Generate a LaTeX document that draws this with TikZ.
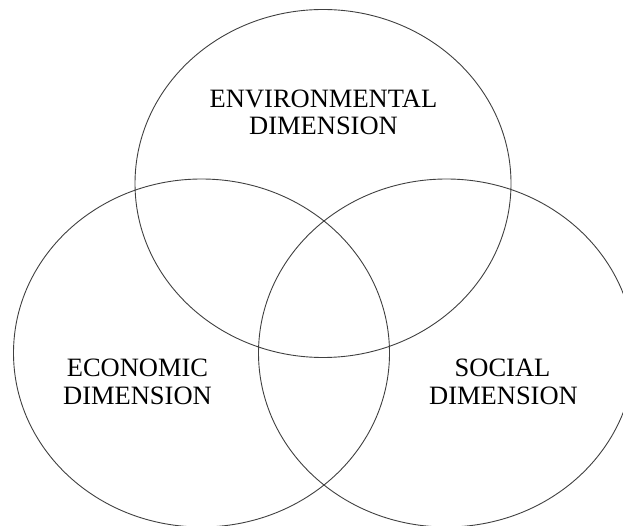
\documentclass[tikz,border=0pt]{standalone}
\usepackage{fontspec}
\setmainfont{Liberation Serif}
\begin{document}
\begin{tikzpicture}[x=1pt,y=1pt,
  ring/.style={draw=black!75,line width=0.9pt},
  lbl/.style={anchor=base,inner sep=0pt,font=\fontsize{26.5}{28}\selectfont}]
\useasboundingbox (0,0) rectangle (623,525);
\clip (0,0) rectangle (623,525);
\draw[ring] (323,341.5) ellipse [x radius=188,y radius=174];
\draw[ring] (201.5,172) ellipse [x radius=188,y radius=174];
\draw[ring] (446.5,172) ellipse [x radius=188,y radius=174];
\node[lbl] (env1) at (323.5,417.5) {ENVIRONMENTAL};
\node[lbl] (env2) at (323.5,390.5) {DIMENSION};
\node[lbl] (eco1) at (137.5,148.5) {ECONOMIC};
\node[lbl] (eco2) at (137.5,120.5) {DIMENSION};
\node[lbl] (soc1) at (502.5,148.5) {SOCIAL};
\node[lbl] (soc2) at (503.5,120.5) {DIMENSION};
\end{tikzpicture}
\end{document}
